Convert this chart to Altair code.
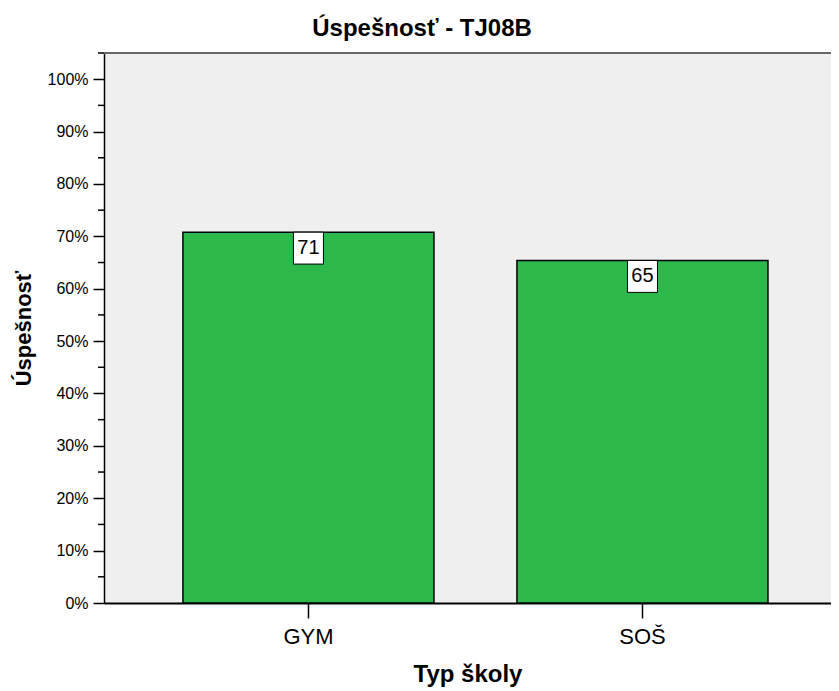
import altair as alt
import pandas as pd

categories = ["GYM", "SOŠ"]
values = [0.708, 0.654]
labels = ["71", "65"]
minor_ticks = [0.05, 0.15, 0.25, 0.35, 0.45, 0.55, 0.65, 0.75, 0.85, 0.95, 1.05]
major_ticks = [0.0, 0.1, 0.2, 0.3, 0.4, 0.5, 0.6, 0.7, 0.8, 0.9, 1.0]

df = pd.DataFrame({"typ": categories, "val": values, "lab": labels})
df_minor = pd.DataFrame({"t": minor_ticks})

FONT = "Liberation Sans"
W, H = 727, 550

xscale = alt.Scale(domain=categories, paddingInner=0.2485, paddingOuter=0.2125, align=0.556)
yscale = alt.Scale(domain=[0, 1.05], nice=False, zero=True)

x = alt.X("typ:N", scale=xscale, sort=categories,
          axis=alt.Axis(title="Typ školy", labelAngle=0, labelFontSize=22, labelFont=FONT,
                        labelColor="black", tickSize=15, tickColor="black", tickWidth=1.5,
                        labelPadding=8, domainColor="black", domainWidth=2,
                        titleFont=FONT, titleFontSize=24, titleFontWeight="bold",
                        titleColor="black", titlePadding=15))
y = alt.Y("val:Q", scale=yscale,
          axis=alt.Axis(title="Úspešnosť", values=major_ticks, format=".0%",
                        labelFontSize=16, labelFont=FONT, labelColor="black",
                        tickSize=11, tickColor="black", tickWidth=1.5, labelPadding=5,
                        domainColor="black", domainWidth=1.5, grid=False,
                        titleFont=FONT, titleFontSize=22, titleFontWeight="bold",
                        titleColor="black", titlePadding=12))

bars = alt.Chart(df).mark_bar(color="#2db84b", stroke="black", strokeWidth=1.5).encode(x=x, y=y)

boxes = alt.Chart(df).mark_point(
    shape="M-1,0H1V2.13H-1Z", size=900, filled=True, fill="white", stroke="black",
    strokeWidth=1, opacity=1
).encode(x=alt.X("typ:N", scale=xscale, sort=categories), y=alt.Y("val:Q", scale=yscale))

texts = alt.Chart(df).mark_text(fontSize=20, font=FONT, color="black", dy=16, baseline="middle").encode(
    x=alt.X("typ:N", scale=xscale, sort=categories), y=alt.Y("val:Q", scale=yscale), text="lab:N")

minor = alt.Chart(df_minor).mark_rule(color="black", strokeWidth=1.5).encode(
    y=alt.Y("t:Q", scale=yscale), x=alt.value(-6), x2=alt.value(0))

top_line = alt.Chart(df.head(1)).mark_rule(color="#666666", strokeWidth=2).encode(
    y=alt.value(0), x=alt.value(0), x2=alt.value(W))

chart = alt.layer(bars, boxes, texts, minor, top_line).properties(
    width=W, height=H,
    title=alt.TitleParams("Úspešnosť - TJ08B", font=FONT, fontSize=24, fontWeight="bold",
                          color="black", anchor="middle", frame="bounds", offset=11),
    autosize=alt.AutoSizeParams(type="none"),
    padding={"left": 96, "top": 45, "right": 0, "bottom": 88},
).configure_view(fill="#efefef", stroke=None)

chart.save("out.html", embed_options={"renderer": "svg", "actions": False})
